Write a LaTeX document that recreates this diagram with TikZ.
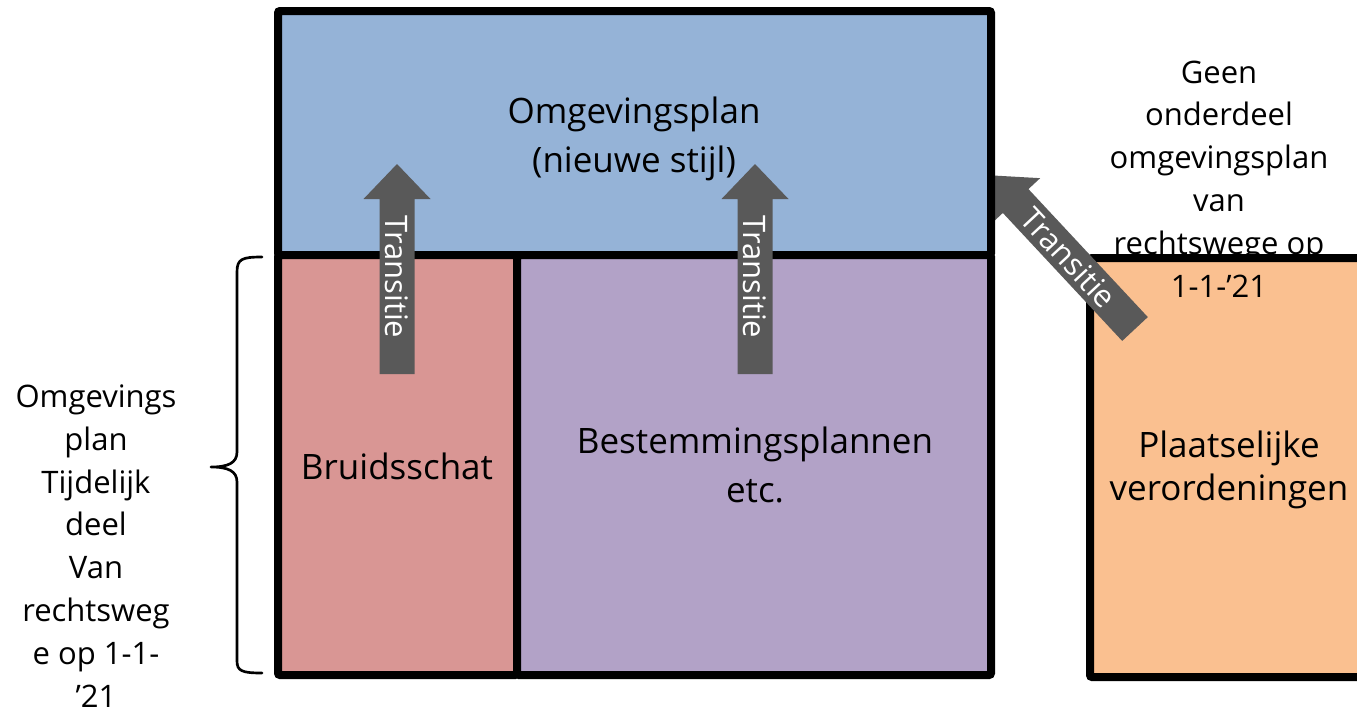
\documentclass[tikz,border=0pt]{standalone}
\usepackage{fontspec}
\setmainfont{Open Sans}
\definecolor{planblue}{HTML}{95B3D7}
\definecolor{bruidred}{HTML}{D99694}
\definecolor{bestpurple}{HTML}{B2A2C7}
\definecolor{verorange}{HTML}{FAC090}
\definecolor{arrowgray}{HTML}{595959}
\tikzset{
  box/.style={draw=black, line width=6pt, rounded corners=1.5pt},
  boxtext/.style={font=\fontsize{26.25pt}{36.75pt}\selectfont, align=center, inner sep=0pt, anchor=base},
  boxtextb/.style={font=\fontsize{26.25pt}{32.25pt}\selectfont, align=center, inner sep=0pt, anchor=base},
  sidetext/.style={font=\fontsize{23.25pt}{32.1pt}\selectfont, align=center, inner sep=0pt, anchor=base},
  arrowbody/.style={fill=arrowgray},
  arrowtext/.style={text=white, font=\fontsize{23.25pt}{28pt}\selectfont, inner sep=0pt},
  bracestyle/.style={draw=black, line width=2pt, line cap=round, line join=round},
}
\newcommand\transarrow[4]{%
  \begin{scope}[shift={#1}, rotate=#2]
    \fill[arrowbody] (0,-17.5) -- (175,-17.5) -- (175,-33.5) -- (210,0) -- (175,33.5) -- (175,17.5) -- (0,17.5) -- cycle;
    \node[arrowtext, rotate=#3] (#4) at (97,0) {Transitie};
  \end{scope}}
\begin{document}
\begin{tikzpicture}[x=0.75pt, y=-0.75pt]
  \useasboundingbox (0,0) rectangle (1357,714);
  % right box (runs off the page)
  \begin{scope}
    \clip (0,0) rectangle (1357,714);
    \draw[box, fill=verorange] (1090,258) rectangle (1380,677);
  \end{scope}
  % diagonal arrow (under the main border)
  \transarrow{(1135,329)}{133}{-47}{tr3}
  % main boxes
  \draw[box, fill=planblue] (278,11) rectangle (991,255);
  \draw[box, fill=bruidred] (278,255) rectangle (517,675);
  \draw[box, fill=bestpurple] (517,255) rectangle (991,675);
  % vertical arrows
  \transarrow{(397,374)}{90}{-90}{tr1}
  \transarrow{(755,374)}{90}{-90}{tr2}
  % texts
  \node[boxtext] (plan) at (634,172) {Omgevingsplan\\(nieuwe stijl)};
  \node[boxtext] (bruid) at (397,479) {Bruidsschat};
  \node[boxtext] (best) at (755,502) {Bestemmingsplannen\\etc.};
  \node[boxtextb] (verord) at (1229,500) {Plaatselijke\\verordeningen};
  \node[sidetext] (geen) at (1219,297) {Geen\\onderdeel\\omgevingsplan\\van\\rechtswege op\\1-1-’21};
  \node[sidetext] (tijd) at (96,707) {Omgevings\\plan\\Tijdelijk\\deel\\Van\\rechtsweg\\e op 1-1-\\’21};
  % brace
  \draw[bracestyle] (262,257) .. controls (242,257) and (237,259) .. (237,272)
    -- (237,452) .. controls (237,463) and (228,467) .. (211,467)
    .. controls (228,467) and (237,471) .. (237,482)
    -- (237,661) .. controls (237,671) and (242,673) .. (262,673);
\end{tikzpicture}
\end{document}
